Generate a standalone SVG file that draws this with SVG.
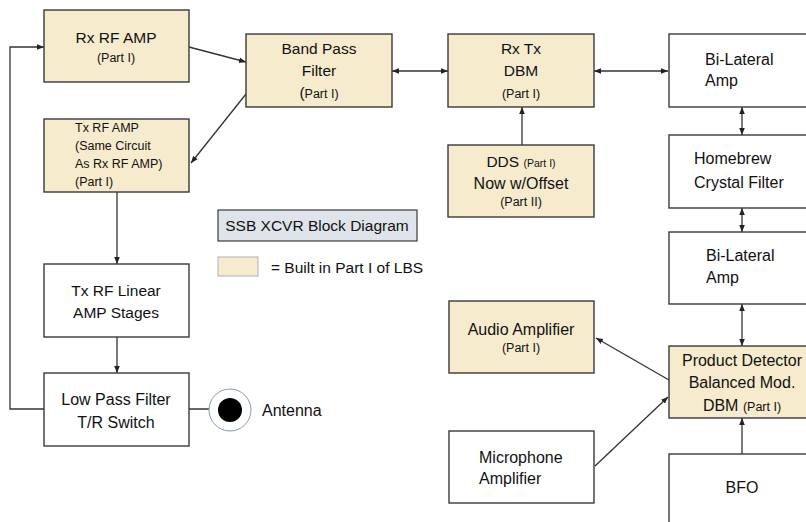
<svg xmlns="http://www.w3.org/2000/svg" width="806" height="522" viewBox="0 0 806 522">
<style>
.box{stroke:#3a3a3a;stroke-width:1.4}
.b{fill:#f6ebcc}
.w{fill:#ffffff}
text{font-family:"Liberation Sans",Arial,sans-serif;fill:#111}
.c{text-anchor:middle}
.l{font-size:16px}
.m{font-size:15.5px}
.s{font-size:12.5px}
.xs{font-size:10.5px}
.con{stroke:#333;stroke-width:1.3;fill:none}
</style>
<defs>
<marker id="ah" viewBox="0 0 10 10" refX="10" refY="5" markerWidth="7" markerHeight="7" orient="auto-start-reverse" markerUnits="userSpaceOnUse">
<path d="M0,1 L10,5 L0,9 z" fill="#222"/>
</marker>
</defs>
<rect width="806" height="522" fill="#fff"/>

<g id="connectors">
<polyline class="con" points="44,409 10,409 10,47 44,47" marker-end="url(#ah)"/>
<line class="con" x1="189" y1="47" x2="246" y2="62" marker-end="url(#ah)"/>
<line class="con" x1="246" y1="94" x2="191" y2="163" marker-end="url(#ah)"/>
<line class="con" x1="392" y1="71" x2="448" y2="71" marker-start="url(#ah)" marker-end="url(#ah)"/>
<line class="con" x1="594" y1="71" x2="668" y2="71" marker-start="url(#ah)" marker-end="url(#ah)"/>
<line class="con" x1="522" y1="145" x2="522" y2="107" marker-end="url(#ah)"/>
<line class="con" x1="742" y1="107" x2="742" y2="135" marker-start="url(#ah)" marker-end="url(#ah)"/>
<line class="con" x1="742" y1="208" x2="742" y2="232" marker-start="url(#ah)" marker-end="url(#ah)"/>
<line class="con" x1="742" y1="304" x2="742" y2="346" marker-start="url(#ah)" marker-end="url(#ah)"/>
<line class="con" x1="742" y1="454" x2="742" y2="418" marker-end="url(#ah)"/>
<line class="con" x1="669" y1="380" x2="596" y2="338" marker-end="url(#ah)"/>
<line class="con" x1="595" y1="466" x2="668" y2="397" marker-end="url(#ah)"/>
<line class="con" x1="117" y1="192" x2="117" y2="264" marker-end="url(#ah)"/>
<line class="con" x1="117" y1="337" x2="117" y2="373" marker-end="url(#ah)"/>
<line class="con" x1="189" y1="409" x2="222" y2="409"/>
</g>

<g id="rx-rf-amp">
<rect class="box b" x="44" y="10" width="145" height="72"/>
<text class="c m" x="116" y="43">Rx RF AMP</text>
<text class="c s" x="116" y="62">(Part I)</text>
</g>

<g id="tx-rf-amp">
<rect class="box b" x="44" y="119" width="145" height="73"/>
<text class="s" x="75" y="132">Tx RF AMP</text>
<text class="s" x="75" y="150">(Same Circuit</text>
<text class="s" x="75" y="168">As Rx RF AMP)</text>
<text class="s" x="75" y="186">(Part I)</text>
</g>

<g id="band-pass-filter">
<rect class="box b" x="246" y="34" width="146" height="73"/>
<text class="c m" x="319" y="54">Band Pass</text>
<text class="c m" x="319" y="76">Filter</text>
<text class="c s" x="319" y="98"><tspan class="m">(</tspan>Part I)</text>
</g>

<g id="rx-tx-dbm">
<rect class="box b" x="448" y="34" width="146" height="73"/>
<text class="c m" x="521" y="54">Rx Tx</text>
<text class="c m" x="521" y="76">DBM</text>
<text class="c s" x="521" y="98">(Part I)</text>
</g>

<g id="dds">
<rect class="box b" x="448" y="145" width="146" height="72"/>
<text class="c m" x="521" y="167">DDS <tspan class="xs">(Part I)</tspan></text>
<text class="c l" x="521" y="189">Now w/Offset</text>
<text class="c s" x="521" y="206">(Part II)</text>
</g>

<g id="bilateral-amp-1">
<rect class="box w" x="669" y="34" width="150" height="73"/>
<text class="l" x="705" y="65">Bi-Lateral</text>
<text class="l" x="705" y="86">Amp</text>
</g>

<g id="crystal-filter">
<rect class="box w" x="669" y="135" width="150" height="73"/>
<text class="l" x="694" y="164">Homebrew</text>
<text class="l" x="694" y="188">Crystal Filter</text>
</g>

<g id="bilateral-amp-2">
<rect class="box w" x="669" y="232" width="150" height="72"/>
<text class="l" x="706" y="261">Bi-Lateral</text>
<text class="l" x="706" y="283">Amp</text>
</g>

<g id="product-detector">
<rect class="box b" x="669" y="346" width="150" height="72"/>
<text class="c l" x="742" y="366">Product Detector</text>
<text class="c l" x="742" y="388">Balanced Mod.</text>
<text class="c l" x="742" y="411">DBM <tspan class="s">(Part I)</tspan></text>
</g>

<g id="bfo">
<rect class="box w" x="669" y="454" width="150" height="80"/>
<text class="c l" x="742" y="493">BFO</text>
</g>

<g id="audio-amplifier">
<rect class="box b" x="449" y="301" width="145" height="72"/>
<text class="c l" x="521" y="335">Audio Amplifier</text>
<text class="c s" x="521" y="352">(Part I)</text>
</g>

<g id="microphone-amplifier">
<rect class="box w" x="449" y="431" width="145" height="72"/>
<text class="l" x="479" y="463">Microphone</text>
<text class="l" x="479" y="484">Amplifier</text>
</g>

<g id="tx-rf-linear">
<rect class="box w" x="44" y="264" width="145" height="73"/>
<text class="c m" x="116" y="296">Tx RF Linear</text>
<text class="c m" x="116" y="318">AMP Stages</text>
</g>

<g id="low-pass-filter">
<rect class="box w" x="44" y="373" width="145" height="73"/>
<text class="c l" x="116" y="405">Low Pass Filter</text>
<text class="c l" x="116" y="428">T/R Switch</text>
</g>

<g id="antenna">
<circle cx="230" cy="410" r="21" fill="#fff" stroke="#8a9ab0" stroke-width="1"/>
<circle cx="230" cy="410" r="12" fill="#000"/>
<text class="l" x="262" y="416">Antenna</text>
</g>

<g id="title">
<rect x="218" y="210" width="199" height="31" fill="#dfe4ea" stroke="#3a3a3a" stroke-width="1.2"/>
<text class="c m" x="317" y="231">SSB XCVR Block Diagram</text>
</g>

<g id="legend">
<rect x="218" y="257" width="40" height="19" fill="#f6ebcc" stroke="#b0b0b0" stroke-width="1"/>
<text class="m" x="271" y="273">= Built in Part I of LBS</text>
</g>
</svg>
